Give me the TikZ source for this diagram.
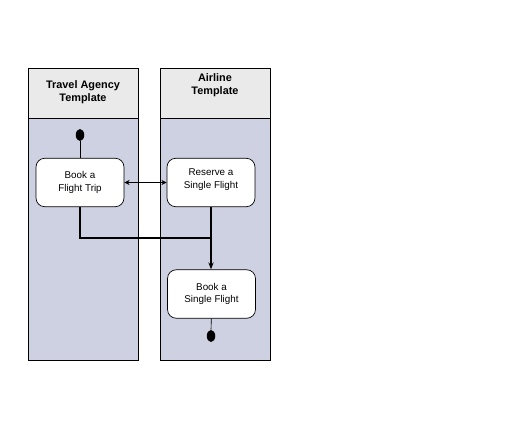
\documentclass[tikz,border=0pt]{standalone}
\usepackage{fontspec}
\setmainfont{Liberation Sans}
\usetikzlibrary{arrows.meta}
\definecolor{lanebody}{RGB}{206,209,225}
\definecolor{lanehead}{RGB}{234,234,234}
\tikzset{
    activity/.style={draw, fill=white, rounded corners=5pt, minimum width=1.76cm, minimum height=0.97cm,
        align=center, font=\fontsize{5.6}{6.9}\selectfont},
    startdot/.style={ellipse, fill=black, inner sep=0pt, minimum width=0.17cm, minimum height=0.24cm},
    headtext/.style={align=center, font=\fontsize{6.2}{7.4}\selectfont\bfseries}
}
\usetikzlibrary{shapes.geometric}
\begin{document}
\begin{tikzpicture}[x=0.02cm,y=-0.02cm]
\useasboundingbox (0,0) rectangle (509,436);

% Left lane
\draw[fill=lanebody] (28,118) rectangle (138,360);
\draw[fill=lanehead] (28,68) rectangle (138,118);
\node[headtext] (agency) at (83,92) {Travel Agency\\Template};

% Right lane
\draw[fill=lanebody] (160,118) rectangle (270,360);
\draw[fill=lanehead] (160,68) rectangle (270,118);
\node[headtext] (airline) at (215,85) {Airline\\Template};

% Activities
\node[startdot] (start) at (80,135) {};
\node[activity] (trip) at (80,182.5) {Book a\\Flight Trip};
\node[activity, text height=7.5pt] (reserve) at (211,182.5) {Reserve a\\Single Flight};
\node[activity] (single) at (211.5,294) {Book a\\Single Flight};
\node[startdot] (stop) at (211,336) {};
\coordinate (join) at (211,238);

% Flows
\draw (start) -- (trip);
\draw[{Stealth[length=3pt,width=3pt]}-{Stealth[length=3pt,width=3pt]}, line width=0.9pt] (trip.east) -- (reserve.west);
\draw[line width=1.6pt] (trip.south) |- (join);
\draw[line width=1.6pt] (reserve.south) -- (join);
\draw[-{Stealth[length=4pt,width=3pt]}, line width=0.8pt] (join) -- (single.north -| join);
\draw (single) -- (stop);
\end{tikzpicture}
\end{document}
